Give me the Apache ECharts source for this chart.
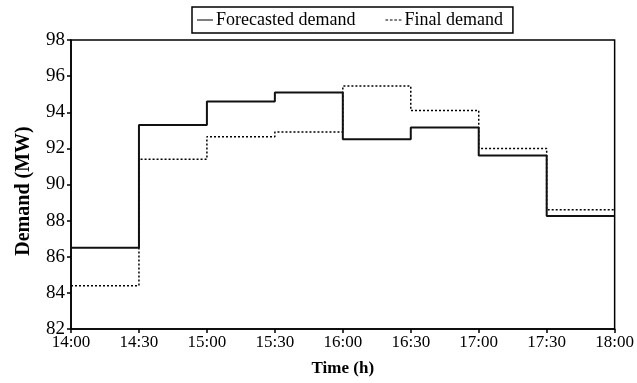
<!DOCTYPE html>
<html>
<head>
<meta charset="utf-8">
<script src="https://cdn.jsdelivr.net/npm/echarts@6/dist/echarts.min.js"></script>
<style>html,body{margin:0;padding:0;background:#fff;}#c{width:637px;height:383px;}</style>
</head>
<body>
<div id="c"></div>
<script>
var timeLabels = ["14:00","14:30","15:00","15:30","16:00","16:30","17:00","17:30","18:00"];
var forecasted = [86.5, 93.3, 94.6, 95.1, 92.5, 93.15, 91.6, 88.25];
var finalDemand = [84.4, 91.4, 92.65, 92.9, 95.45, 94.1, 92.0, 88.6];

function stepData(arr){
  var d = arr.map(function(v,i){return [i,v];});
  d.push([arr.length, arr[arr.length-1]]);
  return d;
}
var font = "Liberation Serif";
var chart = echarts.init(document.getElementById('c'));
chart.setOption({
  animation:false,
  backgroundColor:'#fff',
  textStyle:{fontFamily:font},
  grid:{left:71,right:21,top:40,bottom:54,show:true,borderColor:'#000',borderWidth:1.5,backgroundColor:'transparent'},
  legend:{
    left:192, top:7,
    padding:[4,10,4,5],
    borderColor:'#000', borderWidth:1.5,
    itemWidth:16, itemHeight:2.5, itemGap:30,
    itemStyle:{color:'#000', borderWidth:0},
    textStyle:{fontFamily:font,fontSize:18,color:'#000',padding:[0,0,0,-2]},
    data:[
      {name:'Forecasted demand', icon:'path://M0,0h16v1h-16z'},
      {name:'Final demand', icon:'path://M0,0h3v1h-3z M5,0h3v1h-3z M10,0h3v1h-3z M15,0h3v1h-3z'}
    ]
  },
  xAxis:{
    type:'value', min:0, max:8, interval:1,
    name:'Time (h)', nameLocation:'middle', nameGap:31,
    nameTextStyle:{fontFamily:font,fontSize:17,fontWeight:'bold',color:'#000'},
    axisLine:{lineStyle:{color:'#000',width:1.5}},
    axisTick:{show:true,length:4,lineStyle:{color:'#000',width:1.5}},
    axisLabel:{fontFamily:font,fontSize:17,color:'#000',margin:5,formatter:function(v){return timeLabels[v];}},
    splitLine:{show:false}
  },
  yAxis:{
    type:'value', min:82, max:98, interval:2,
    name:'Demand (MW)', nameLocation:'middle', nameGap:37,
    nameTextStyle:{fontFamily:font,fontSize:20,fontWeight:'bold',color:'#000',padding:[0,13,0,0]},
    axisLine:{show:true,lineStyle:{color:'#000',width:1.5}},
    axisTick:{show:true,length:4,lineStyle:{color:'#000',width:1.5}},
    axisLabel:{fontFamily:font,fontSize:19,color:'#000',margin:6},
    splitLine:{show:false}
  },
  series:[
    {name:'Final demand', type:'line', step:'end', symbol:'none', data:stepData(finalDemand),
      lineStyle:{color:'#000',width:1.5,type:[2,2]}, itemStyle:{color:'#000'}},
    {name:'Forecasted demand', type:'line', step:'end', symbol:'none', data:stepData(forecasted),
      lineStyle:{color:'#111',width:2,type:'solid'}, itemStyle:{color:'#000'}}
  ]
});
</script>
</body>
</html>
